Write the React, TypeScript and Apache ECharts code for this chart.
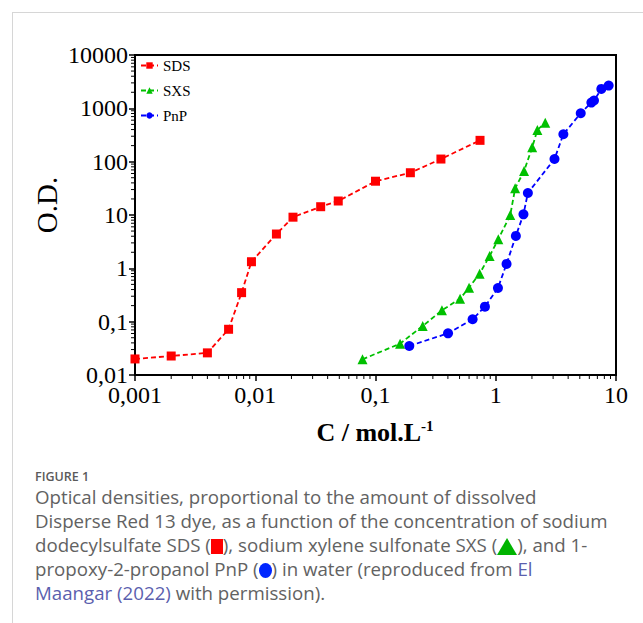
import React, { useEffect, useRef } from 'react';
import * as echarts from 'echarts';

// ---- data ----
const sdsC = [0.001, 0.002, 0.004, 0.006, 0.0077, 0.0093, 0.015, 0.0206, 0.035, 0.049, 0.1, 0.195, 0.35, 0.74];
const sdsOD = [0.02, 0.0227, 0.026, 0.072, 0.35, 1.33, 4.4, 9.1, 14.3, 18.3, 43, 62, 112, 251];
const sxsC = [0.078, 0.16, 0.247, 0.357, 0.505, 0.6, 0.734, 0.889, 1.05, 1.32, 1.45, 1.72, 2.01, 2.22, 2.58];
const sxsOD = [0.0197, 0.0387, 0.083, 0.163, 0.27, 0.434, 0.795, 1.7, 3.5, 10, 31.6, 66.8, 186, 393, 538];
const pnpC = [0.191, 0.401, 0.642, 0.813, 1.043, 1.23, 1.47, 1.7, 1.85, 3.08, 3.65, 5.09, 6.24, 6.56, 7.55, 8.69];
const pnpOD = [0.035, 0.0605, 0.111, 0.191, 0.428, 1.21, 4.05, 10.3, 25.9, 112, 327, 809, 1280, 1400, 2310, 2670];

const seriesNames = ['SDS', 'SXS', 'PnP'];
const xTickLabels = ['0,001', '0,01', '0,1', '1', '10'];
const yTickLabels = ['0,01', '0,1', '1', '10', '100', '1000', '10000'];
const xMin = 0.001;
const xMax = 10;
const yMin = 0.01;
const yMax = 10000;
const minorMultipliers = [2, 3, 4, 5, 6, 7, 8, 9];

const SERIF = '"Liberation Serif", "Times New Roman", serif';

function zip(a: number[], b: number[]) {
  return a.map((v, i) => [v, b[i]]);
}

function minorTicks(): number[][] {
  const out: number[][] = [];
  for (let e = Math.round(Math.log10(xMin)); e < Math.round(Math.log10(xMax)); e++) {
    minorMultipliers.forEach((m) => out.push([m * Math.pow(10, e), yMin, 0]));
  }
  for (let e = Math.round(Math.log10(yMin)); e < Math.round(Math.log10(yMax)); e++) {
    minorMultipliers.forEach((m) => out.push([xMin, m * Math.pow(10, e), 1]));
  }
  return out;
}

export default function App() {
  const ref = useRef<HTMLDivElement>(null);

  useEffect(() => {
    if (!ref.current) return;
    const chart = echarts.init(ref.current, null, { renderer: 'svg' });
    const xExp0 = Math.round(Math.log10(xMin));
    const yExp0 = Math.round(Math.log10(yMin));
    const lineCommon = (color: string) => ({
      type: 'line' as const,
      lineStyle: { color, width: 1.8, type: [5, 3] },
      itemStyle: { color },
      showSymbol: true,
      z: 3,
    });
    chart.setOption({
      animation: false,
      backgroundColor: 'transparent',
      grid: {
        left: 135,
        top: 55,
        width: 481,
        height: 320,
        show: true,
        borderColor: '#000',
        borderWidth: 2,
        backgroundColor: 'transparent',
        containLabel: false,
        outerBoundsMode: 'none',
      },
      legend: {
        data: seriesNames,
        orient: 'vertical',
        left: 140,
        top: 58,
        padding: 0,
        itemWidth: 17,
        itemHeight: 8,
        itemGap: 10,
        textStyle: { fontFamily: SERIF, fontSize: 15, color: '#000', lineHeight: 15 },
      },
      xAxis: {
        type: 'log',
        logBase: 10,
        min: xMin,
        max: xMax,
        axisLine: { show: true, lineStyle: { color: '#000', width: 2 } },
        axisTick: { show: true, inside: false, length: 6, lineStyle: { color: '#000', width: 1.5 } },
        splitLine: { show: false },
        minorTick: { show: false },
        axisLabel: {
          margin: 11,
          fontFamily: SERIF,
          fontSize: 24,
          lineHeight: 17,
          color: '#000',
          formatter: (v: number) => xTickLabels[Math.round(Math.log10(v)) - xExp0] ?? '',
        },
      },
      yAxis: {
        type: 'log',
        logBase: 10,
        min: yMin,
        max: yMax,
        axisLine: { show: true, lineStyle: { color: '#000', width: 2 } },
        axisTick: { show: true, inside: false, length: 6, lineStyle: { color: '#000', width: 1.5 } },
        splitLine: { show: false },
        minorTick: { show: false },
        axisLabel: {
          margin: 7,
          fontFamily: SERIF,
          fontSize: 24,
          lineHeight: 17,
          color: '#000',
          formatter: (v: number) => yTickLabels[Math.round(Math.log10(v)) - yExp0] ?? '',
        },
      },
      graphic: [
        {
          type: 'text',
          x: 47,
          y: 205,
          rotation: Math.PI / 2,
          style: {
            text: 'O.D.',
            font: '29px ' + SERIF,
            fill: '#000',
            textAlign: 'center',
            textVerticalAlign: 'middle',
          },
        },
        {
          type: 'text',
          x: 375,
          y: 432,
          style: {
            text: '{a|C / mol.L}{b|-1}',
            textAlign: 'center',
            textVerticalAlign: 'middle',
            fill: '#000',
            rich: {
              a: { fontFamily: SERIF, fontWeight: 'bold', fontSize: 26, color: '#000', lineHeight: 28 },
              b: { fontFamily: SERIF, fontWeight: 'bold', fontSize: 15, color: '#000', verticalAlign: 'top', lineHeight: 28 },
            },
          },
        },
      ],
      series: [
        {
          name: 'minor',
          type: 'custom',
          silent: true,
          z: 1,
          clip: false,
          data: minorTicks(),
          renderItem: (params: any, api: any) => {
            const p = api.coord([api.value(0), api.value(1)]);
            const dir = api.value(2);
            const shape =
              dir === 0
                ? { x1: p[0], y1: p[1], x2: p[0], y2: p[1] + 4 }
                : { x1: p[0], y1: p[1], x2: p[0] - 4, y2: p[1] };
            return { type: 'line', shape, style: { stroke: '#000', lineWidth: 1 } };
          },
        },
        {
          ...lineCommon('#ff0000'),
          name: 'SDS',
          symbol: 'rect',
          symbolSize: 9,
          data: zip(sdsC, sdsOD),
        },
        {
          ...lineCommon('#00c000'),
          name: 'SXS',
          symbol: 'triangle',
          symbolSize: 10,
          data: zip(sxsC, sxsOD),
        },
        {
          ...lineCommon('#0000ff'),
          name: 'PnP',
          symbol: 'circle',
          symbolSize: 10,
          data: zip(pnpC, pnpOD),
        },
      ],
    });
    return () => chart.dispose();
  }, []);

  const captionFont = '"Open Sans", "Noto Sans", sans-serif';
  return (
    <div style={{ position: 'fixed', left: 0, top: 0, width: 643, height: 623, background: '#fff', overflow: 'hidden' }}>
      <div
        style={{
          position: 'absolute',
          left: 12,
          top: 12,
          right: -2,
          bottom: -2,
          borderTop: '1px solid #d6d6d6',
          borderLeft: '1px solid #d6d6d6',
        }}
      />
      <div ref={ref} style={{ position: 'absolute', left: 0, top: 0, width: 643, height: 460 }} />
      <div
        style={{
          position: 'absolute',
          left: 35,
          top: 469,
          fontFamily: captionFont,
          fontSize: 12.5,
          fontWeight: 600,
          lineHeight: '16px',
          color: '#5a5a5a',
        }}
      >
        FIGURE 1
      </div>
      <div
        style={{
          position: 'absolute',
          left: 35,
          top: 485,
          fontFamily: captionFont,
          fontSize: 18.7,
          lineHeight: '24px',
          color: '#626262',
          whiteSpace: 'nowrap',
        }}
      >
        Optical densities, proportional to the amount of dissolved
        <br />
        Disperse Red 13 dye, as a function of the concentration of sodium
        <br />
        dodecylsulfate SDS (
        <span style={{ display: 'inline-block', width: 12, height: 15, background: '#ff0000', verticalAlign: -2 }} />
        ), sodium xylene sulfonate SXS (
        <span
          style={{
            display: 'inline-block',
            width: 0,
            height: 0,
            borderLeft: '10px solid transparent',
            borderRight: '10px solid transparent',
            borderBottom: '17px solid #00b400',
            verticalAlign: -3,
          }}
        />
        ), and 1-
        <br />
        propoxy-2-propanol PnP (
        <span
          style={{ display: 'inline-block', width: 13, height: 15, borderRadius: '50%', background: '#0026ff', verticalAlign: -2 }}
        />
        ) in water (reproduced from <span style={{ color: '#5b5fae' }}>El</span>
        <br />
        <span style={{ color: '#5b5fae' }}>Maangar (2022)</span> with permission).
      </div>
    </div>
  );
}
